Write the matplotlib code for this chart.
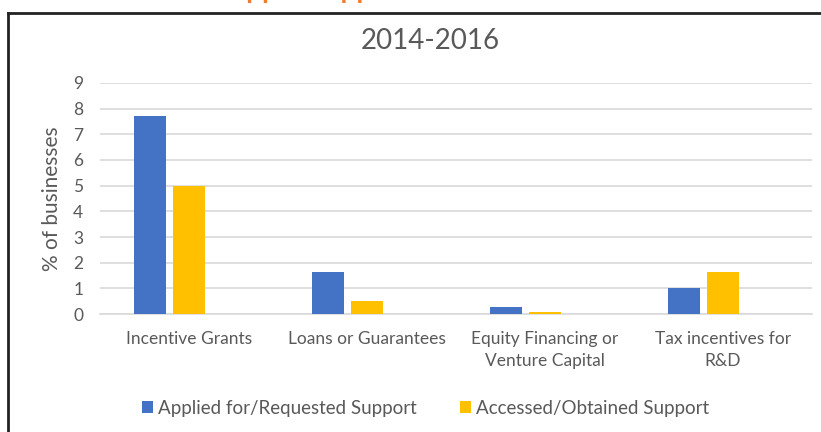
import matplotlib
matplotlib.use("Agg")
import matplotlib.pyplot as plt
import numpy as np
from matplotlib.lines import Line2D

plt.rcParams['font.family'] = ['Lato', 'DejaVu Sans']

categories = ['Incentive Grants', 'Loans or Guarantees',
              'Equity Financing or\nVenture Capital', 'Tax incentives for\nR&D']
applied = [7.7, 1.65, 0.27, 1.0]
obtained = [5.0, 0.5, 0.08, 1.65]
series_names = ['Applied for/Requested Support', 'Accessed/Obtained Support']
yticks = list(range(0, 10))

blue = '#4472C4'
gold = '#FFC000'
grid_col = '#D9D9D9'
text_col = '#595959'

fig = plt.figure(figsize=(8.21, 4.32), dpi=100)
ax = fig.add_axes([0.1218, 0.273, 0.867, 0.535])

x = np.arange(len(categories))
w = 0.18
step = 0.22
ax.bar(x - step, applied, width=w, color=blue, label=series_names[0], zorder=3)
ax.bar(x, obtained, width=w, color=gold, label=series_names[1], zorder=3)

ax.set_xlim(-0.5, len(categories) - 0.5)
ax.set_ylim(0, 9)
ax.set_yticks(yticks)
ax.yaxis.grid(True, color=grid_col, linewidth=1.2, zorder=0)
ax.set_axisbelow(True)
for s in ['top', 'right', 'left']:
    ax.spines[s].set_visible(False)
ax.spines['bottom'].set_color(grid_col)
ax.spines['bottom'].set_linewidth(1.2)
ax.tick_params(axis='both', length=0, colors=text_col, labelsize=12.5)
ax.tick_params(axis='y', pad=12)
ax.tick_params(axis='x', pad=12)
ax.set_xticks(x)
ax.set_xticklabels(categories, linespacing=1.45)
ax.set_ylabel('% of businesses', color=text_col, fontsize=15, labelpad=8)

fig.text(0.524, 0.905, '2014-2016', ha='center', va='center',
         fontsize=20, color=text_col)

# heading above the frame, mostly cut off by the top edge
fig.text(0.065, 1.0 + 1.5 / 432, 'Government Support Applications', ha='left',
         va='baseline', fontsize=20, fontweight='bold', color='#ED7D31')

leg = fig.legend(loc='center', bbox_to_anchor=(0.518, 0.055), ncol=2,
                 frameon=False, fontsize=13.5, handlelength=0.6, handleheight=0.6,
                 handletextpad=0.25, columnspacing=2.3)
for t in leg.get_texts():
    t.set_color(text_col)

# chart frame
fig.add_artist(Line2D([8 / 821, 1.0], [1 - 13 / 432] * 2, color='#222222',
                      linewidth=2, transform=fig.transFigure))
fig.add_artist(Line2D([8 / 821] * 2, [0, 1 - 13 / 432], color='#222222',
                      linewidth=2, transform=fig.transFigure))

fig.savefig('out.png', dpi=100)
